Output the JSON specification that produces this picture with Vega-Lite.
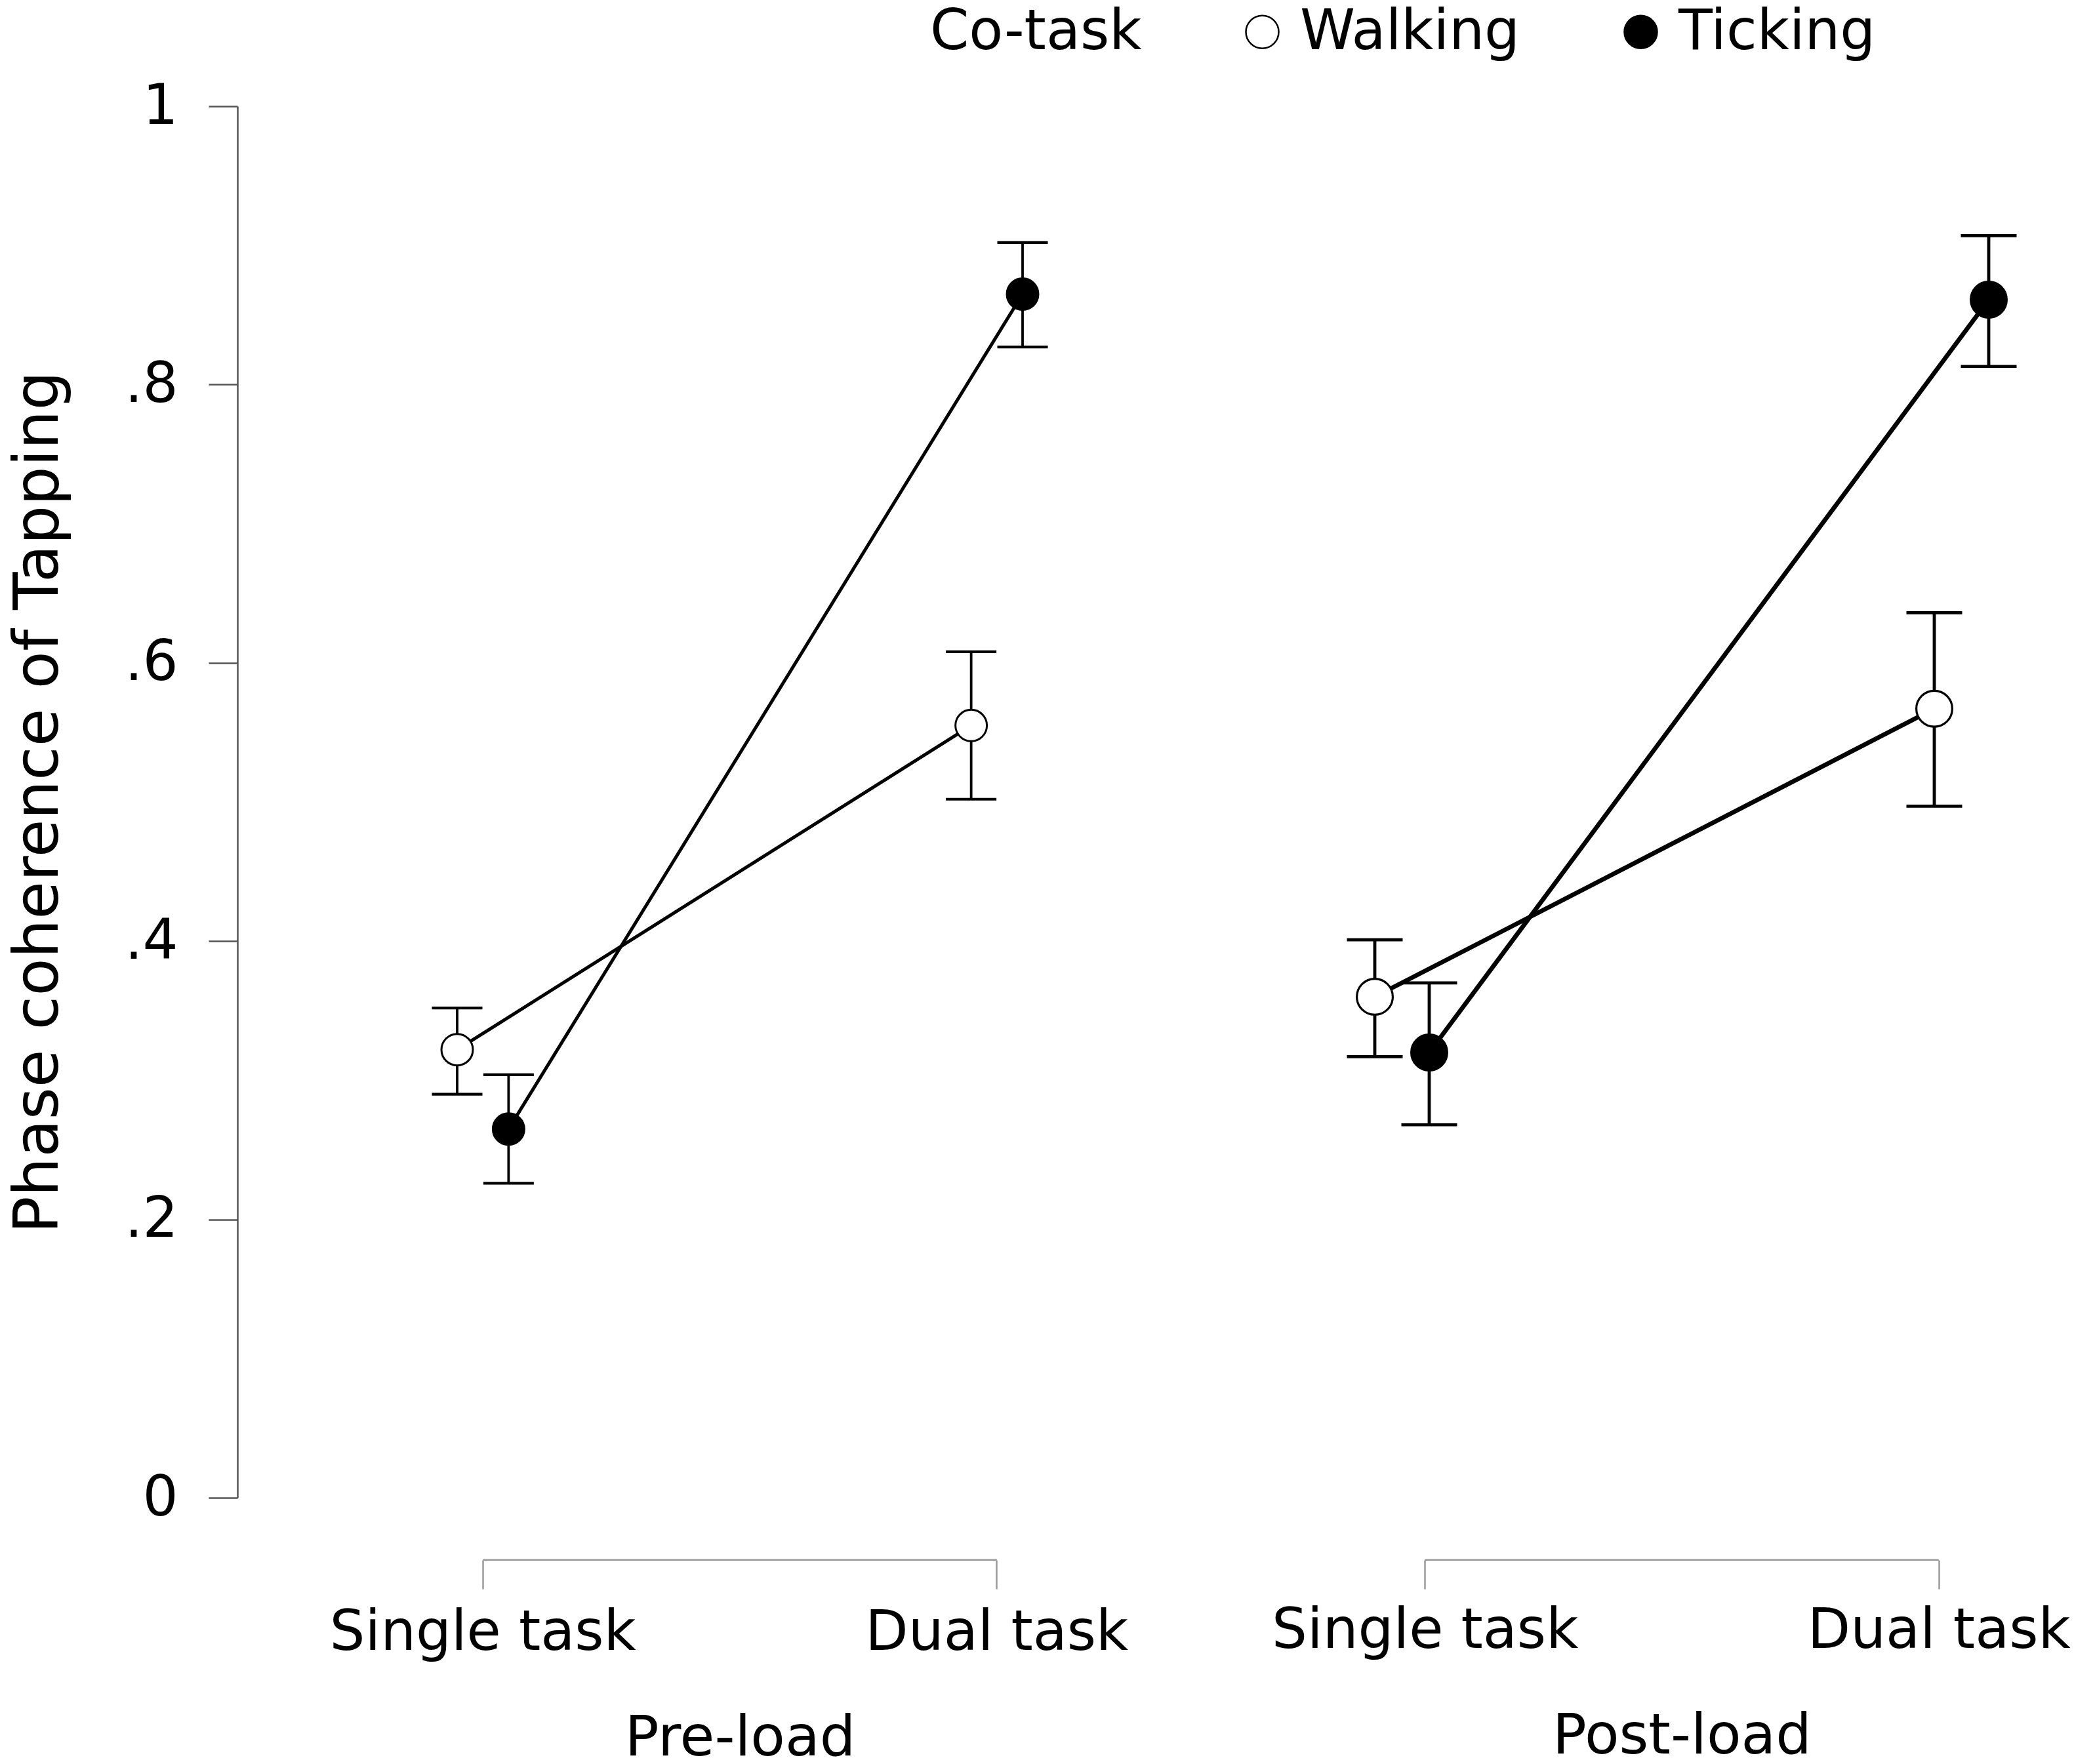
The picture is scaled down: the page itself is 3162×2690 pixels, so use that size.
{
  "$schema": "https://vega.github.io/schema/vega-lite/v6.json",
  "background": "white",
  "padding": {"left": 12, "top": 6, "right": 0, "bottom": 0},
  "data": {
    "values": [
      {"Load": "Pre-load", "Task": "Single task", "CoTask": "Walking", "mean": 0.322, "lower": 0.290, "upper": 0.352},
      {"Load": "Pre-load", "Task": "Single task", "CoTask": "Ticking", "mean": 0.265, "lower": 0.226, "upper": 0.304},
      {"Load": "Pre-load", "Task": "Dual task", "CoTask": "Walking", "mean": 0.555, "lower": 0.502, "upper": 0.608},
      {"Load": "Pre-load", "Task": "Dual task", "CoTask": "Ticking", "mean": 0.865, "lower": 0.827, "upper": 0.902},
      {"Load": "Post-load", "Task": "Single task", "CoTask": "Walking", "mean": 0.360, "lower": 0.317, "upper": 0.401},
      {"Load": "Post-load", "Task": "Single task", "CoTask": "Ticking", "mean": 0.320, "lower": 0.268, "upper": 0.370},
      {"Load": "Post-load", "Task": "Dual task", "CoTask": "Walking", "mean": 0.567, "lower": 0.497, "upper": 0.636},
      {"Load": "Post-load", "Task": "Dual task", "CoTask": "Ticking", "mean": 0.861, "lower": 0.813, "upper": 0.907}
    ]
  },
  "spacing": 218,
  "resolve": {"scale": {"x": "independent", "xOffset": "independent"}},
  "hconcat": [
    {
      "width": 862,
      "height": 2122,
      "transform": [{"filter": "datum.Load == 'Pre-load'"}],
      "layer": [
        {
          "transform": [{"filter": "datum.Task == 'Single task' && datum.CoTask == 'Walking'"}],
          "mark": {"type": "rule", "color": "#9a9a9a", "strokeWidth": 2.5},
          "encoding": {
            "x": {"datum": "Single task"},
            "x2": {"datum": "Dual task"},
            "y": {"datum": -0.0447}
          }
        },
        {
          "mark": {"type": "rule", "color": "black", "strokeWidth": 3.8},
          "encoding": {
            "x": {"field": "Task", "type": "nominal", "sort": ["Single task", "Dual task"]},
            "xOffset": {"field": "CoTask", "type": "nominal", "sort": ["Walking", "Ticking"], "scale": {"type": "point", "padding": 0}},
            "y": {"field": "lower", "type": "quantitative"},
            "y2": {"field": "upper"}
          }
        },
        {
          "mark": {"type": "tick", "color": "black", "thickness": 4.2, "size": 77, "opacity": 1},
          "encoding": {
            "x": {"field": "Task", "type": "nominal", "sort": ["Single task", "Dual task"]},
            "xOffset": {"field": "CoTask", "type": "nominal", "sort": ["Walking", "Ticking"]},
            "y": {"field": "lower", "type": "quantitative"}
          }
        },
        {
          "mark": {"type": "tick", "color": "black", "thickness": 4.2, "size": 77, "opacity": 1},
          "encoding": {
            "x": {"field": "Task", "type": "nominal", "sort": ["Single task", "Dual task"]},
            "xOffset": {"field": "CoTask", "type": "nominal", "sort": ["Walking", "Ticking"]},
            "y": {"field": "upper", "type": "quantitative"}
          }
        },
        {
          "mark": {"type": "line", "color": "black", "strokeWidth": 5},
          "encoding": {
            "x": {"field": "Task", "type": "nominal", "sort": ["Single task", "Dual task"]},
            "xOffset": {"field": "CoTask", "type": "nominal", "sort": ["Walking", "Ticking"]},
            "y": {"field": "mean", "type": "quantitative"},
            "detail": {"field": "CoTask"}
          }
        },
        {
          "mark": {"type": "circle", "stroke": "black", "strokeWidth": 3, "size": 2300, "opacity": 1},
          "encoding": {
            "x": {
              "field": "Task",
              "type": "nominal",
              "sort": ["Single task", "Dual task"],
              "scale": {"paddingInner": 0.9, "paddingOuter": 0},
              "axis": {
                "title": "Pre-load",
                "offset": 95,
                "domain": false,
                "tickSize": 44,
                "tickColor": "#9a9a9a",
                "tickWidth": 2.5,
                "labelAngle": 0,
                "labelAlign": "center",
                "labelFontSize": 85,
                "labelPadding": 66,
                "labelLimit": 0,
                "labelColor": "black",
                "titleFontSize": 86,
                "titleFontWeight": "normal",
                "titleColor": "black",
                "titlePadding": 76
              }
            },
            "xOffset": {"field": "CoTask", "type": "nominal", "sort": ["Walking", "Ticking"]},
            "y": {
              "field": "mean",
              "type": "quantitative",
              "title": "Phase coherence of Tapping",
              "scale": {"domain": [0, 1], "nice": false, "zero": false},
              "axis": {
                "values": [0, 0.2, 0.4, 0.6, 0.8, 1],
                "labelExpr": "datum.value == 0 ? '0' : datum.value == 1 ? '1' : replace(format(datum.value, '.1f'), '0.', '.')",
                "offset": 335,
                "grid": false,
                "tickSize": 44,
                "domainColor": "#555555",
                "tickColor": "#555555",
                "domainWidth": 2.5,
                "tickWidth": 2.5,
                "labelFontSize": 85,
                "labelPadding": 47,
                "labelColor": "black",
                "titleFontSize": 94,
                "titleFontWeight": "normal",
                "titleColor": "black",
                "titleLimit": 0,
                "titlePadding": 82
              }
            },
            "fill": {
              "field": "CoTask",
              "type": "nominal",
              "sort": ["Walking", "Ticking"],
              "scale": {"domain": ["Walking", "Ticking"], "range": ["white", "black"]},
              "legend": {
                "title": "Co-task",
                "orient": "none",
                "legendX": 721,
                "legendY": -156,
                "direction": "horizontal",
                "titleOrient": "left",
                "titleFontSize": 85,
                "titleFontWeight": "normal",
                "titleColor": "black",
                "titleLimit": 2000,
                "titlePadding": 141,
                "labelFontSize": 85,
                "labelColor": "black",
                "labelLimit": 2000,
                "labelOffset": 15,
                "columnPadding": 142,
                "symbolType": "circle",
                "symbolSize": 2500,
                "symbolStrokeColor": "black",
                "symbolStrokeWidth": 2.5,
                "padding": 0
              }
            }
          }
        }
      ]
    },
    {
      "width": 936,
      "height": 2122,
      "transform": [{"filter": "datum.Load == 'Post-load'"}],
      "resolve": {"scale": {"x": "independent"}},
      "layer": [
        {
          "transform": [{"filter": "datum.Task == 'Single task' && datum.CoTask == 'Walking'"}],
          "mark": {"type": "rule", "color": "#9a9a9a", "strokeWidth": 2.5},
          "encoding": {
            "x": {
              "datum": "Single task",
              "type": "nominal",
              "scale": {"type": "point", "domain": ["Single task", "Dual task"], "padding": 0.0973},
              "axis": {
                "title": "Post-load",
                "offset": 95,
                "domain": false,
                "tickSize": 44,
                "tickColor": "#9a9a9a",
                "tickWidth": 2.5,
                "labelAngle": 0,
                "labelAlign": "center",
                "labelFontSize": 85,
                "labelPadding": 22,
                "labelLimit": 0,
                "labelColor": "black",
                "titleFontSize": 86,
                "titleFontWeight": "normal",
                "titleColor": "black",
                "titlePadding": 76
              }
            },
            "x2": {"datum": "Dual task"},
            "y": {"datum": -0.0447, "type": "quantitative", "scale": {"domain": [0, 1], "nice": false, "zero": false}, "axis": null}
          }
        },
        {
          "layer": [
            {
              "mark": {"type": "rule", "color": "black", "strokeWidth": 4.8},
              "encoding": {
                "x": {"field": "Task", "type": "nominal", "sort": ["Single task", "Dual task"], "scale": {"paddingInner": 0.9027, "paddingOuter": 0}, "axis": null},
                "xOffset": {"field": "CoTask", "type": "nominal", "sort": ["Walking", "Ticking"], "scale": {"type": "point", "padding": 0}},
                "y": {"field": "lower", "type": "quantitative", "axis": null},
                "y2": {"field": "upper"}
              }
            },
            {
              "mark": {"type": "tick", "color": "black", "thickness": 4.6, "size": 85, "opacity": 1},
              "encoding": {
                "x": {"field": "Task", "type": "nominal", "sort": ["Single task", "Dual task"], "axis": null},
                "xOffset": {"field": "CoTask", "type": "nominal", "sort": ["Walking", "Ticking"]},
                "y": {"field": "lower", "type": "quantitative", "axis": null}
              }
            },
            {
              "mark": {"type": "tick", "color": "black", "thickness": 4.6, "size": 85, "opacity": 1},
              "encoding": {
                "x": {"field": "Task", "type": "nominal", "sort": ["Single task", "Dual task"], "axis": null},
                "xOffset": {"field": "CoTask", "type": "nominal", "sort": ["Walking", "Ticking"]},
                "y": {"field": "upper", "type": "quantitative", "axis": null}
              }
            },
            {
              "mark": {"type": "line", "color": "black", "strokeWidth": 6.8},
              "encoding": {
                "x": {"field": "Task", "type": "nominal", "sort": ["Single task", "Dual task"], "axis": null},
                "xOffset": {"field": "CoTask", "type": "nominal", "sort": ["Walking", "Ticking"]},
                "y": {"field": "mean", "type": "quantitative", "axis": null},
                "detail": {"field": "CoTask"}
              }
            },
            {
              "mark": {"type": "circle", "stroke": "black", "strokeWidth": 3.2, "size": 3000, "opacity": 1},
              "encoding": {
                "x": {"field": "Task", "type": "nominal", "sort": ["Single task", "Dual task"], "axis": null},
                "xOffset": {"field": "CoTask", "type": "nominal", "sort": ["Walking", "Ticking"]},
                "y": {"field": "mean", "type": "quantitative", "axis": null},
                "fill": {
                  "field": "CoTask",
                  "type": "nominal",
                  "sort": ["Walking", "Ticking"],
                  "scale": {"domain": ["Walking", "Ticking"], "range": ["white", "black"]}
                }
              }
            }
          ]
        }
      ]
    }
  ],
  "config": {
    "font": "DejaVu Sans",
    "view": {"stroke": null}
  }
}
